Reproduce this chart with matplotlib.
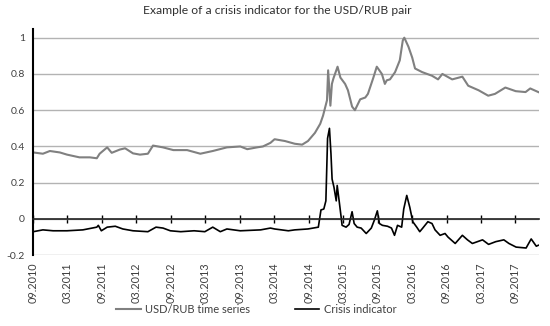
import matplotlib
matplotlib.use("Agg")
import matplotlib.pyplot as plt
import matplotlib.dates as mdates
import pandas as pd

plt.rcParams['font.family'] = ['Lato', 'DejaVu Sans']

# USD/RUB (normalised)
rub_dates = ["2010-09-01", "2010-10-22", "2010-11-28", "2011-01-20", "2011-02-27",
             "2011-05-04", "2011-06-28", "2011-08-04", "2011-08-19", "2011-09-28",
             "2011-10-22", "2011-12-04", "2012-01-01", "2012-02-12", "2012-03-20",
             "2012-05-01", "2012-05-28", "2012-07-20", "2012-09-13", "2012-11-25",
             "2013-02-03", "2013-04-10", "2013-06-24", "2013-09-03", "2013-10-10",
             "2013-12-01", "2014-01-01", "2014-02-10", "2014-03-04", "2014-04-28",
             "2014-06-19", "2014-07-28", "2014-08-28", "2014-10-04", "2014-11-01",
             "2014-11-16", "2014-12-07", "2014-12-13", "2014-12-25", "2015-01-02",
             "2015-01-10", "2015-02-01", "2015-02-16", "2015-03-13", "2015-03-28",
             "2015-04-19", "2015-05-04", "2015-06-01", "2015-06-28", "2015-07-12",
             "2015-08-10", "2015-08-28", "2015-09-24", "2015-10-10", "2015-10-20",
             "2015-11-06", "2015-12-03", "2015-12-28", "2016-01-13", "2016-01-21",
             "2016-02-12", "2016-03-03", "2016-03-18", "2016-04-25", "2016-06-16",
             "2016-07-18", "2016-08-10", "2016-10-01", "2016-11-24", "2016-12-25",
             "2017-02-18", "2017-04-10", "2017-05-16", "2017-07-10", "2017-09-03",
             "2017-10-25", "2017-11-19", "2018-01-01"]
rub_values = [0.367, 0.36, 0.375, 0.367, 0.355,
              0.34, 0.34, 0.335, 0.36, 0.395,
              0.365, 0.383, 0.39, 0.362, 0.355,
              0.36, 0.405, 0.395, 0.38, 0.38,
              0.36, 0.375, 0.395, 0.40, 0.385,
              0.395, 0.40, 0.42, 0.44, 0.43,
              0.415, 0.41, 0.43, 0.475, 0.525,
              0.57, 0.655, 0.82, 0.625, 0.745,
              0.775, 0.84, 0.78, 0.745, 0.71,
              0.62, 0.60, 0.66, 0.67, 0.69,
              0.78, 0.84, 0.80, 0.745, 0.765,
              0.77, 0.81, 0.875, 0.985, 1.0,
              0.95, 0.89, 0.83, 0.81, 0.79,
              0.77, 0.80, 0.77, 0.785, 0.735,
              0.71, 0.68, 0.69, 0.725, 0.705,
              0.70, 0.72, 0.70]

# crisis indicator
ci_dates = ["2010-09-01", "2010-10-22", "2010-12-15", "2011-02-27", "2011-05-22",
            "2011-08-04", "2011-08-12", "2011-08-28", "2011-09-28", "2011-11-10",
            "2011-12-20", "2012-02-12", "2012-05-01", "2012-06-13", "2012-07-20",
            "2012-08-28", "2012-10-22", "2013-01-01", "2013-02-27", "2013-04-10",
            "2013-05-20", "2013-06-24", "2013-09-03", "2013-12-20", "2014-02-10",
            "2014-03-04", "2014-05-16", "2014-06-19", "2014-08-28", "2014-10-22",
            "2014-11-05", "2014-11-20", "2014-12-01", "2014-12-10", "2014-12-20",
            "2014-12-28", "2015-01-03", "2015-01-13", "2015-01-25", "2015-01-30",
            "2015-02-10", "2015-02-20", "2015-02-25", "2015-03-18", "2015-04-03",
            "2015-04-19", "2015-04-30", "2015-05-16", "2015-06-06", "2015-07-03",
            "2015-07-30", "2015-08-15", "2015-08-31", "2015-09-11", "2015-09-27",
            "2015-10-24", "2015-11-14", "2015-11-30", "2015-12-16", "2016-01-07",
            "2016-01-18", "2016-02-03", "2016-02-19", "2016-03-06", "2016-03-27",
            "2016-04-12", "2016-04-28", "2016-05-25", "2016-06-16", "2016-07-02",
            "2016-07-29", "2016-08-24", "2016-09-09", "2016-10-17", "2016-11-24",
            "2016-12-21", "2017-01-16", "2017-03-11", "2017-04-12", "2017-05-20",
            "2017-07-02", "2017-07-29", "2017-09-05", "2017-10-28", "2017-11-24",
            "2017-12-21", "2018-01-01"]
ci_values = [-0.07, -0.06, -0.065, -0.065, -0.06,
             -0.045, -0.035, -0.065, -0.045, -0.04,
             -0.055, -0.065, -0.07, -0.045, -0.05,
             -0.065, -0.07, -0.065, -0.07, -0.045,
             -0.07, -0.055, -0.065, -0.06, -0.05,
             -0.055, -0.065, -0.06, -0.055, -0.045,
             0.05, 0.055, 0.10, 0.445, 0.50,
             0.36, 0.22, 0.175, 0.10, 0.185,
             0.095, 0.01, -0.035, -0.045, -0.03,
             0.04, -0.025, -0.045, -0.05, -0.08,
             -0.05, -0.007, 0.045, -0.025, -0.035,
             -0.04, -0.05, -0.09, -0.035, -0.045,
             0.055, 0.13, 0.065, -0.015, -0.045,
             -0.07, -0.05, -0.015, -0.025, -0.06,
             -0.09, -0.08, -0.10, -0.135, -0.09,
             -0.115, -0.135, -0.115, -0.14, -0.125,
             -0.115, -0.135, -0.155, -0.16, -0.11,
             -0.15, -0.145]

y_ticks = [-0.2, 0, 0.2, 0.4, 0.6, 0.8, 1]
title = "Example of a crisis indicator for the USD/RUB pair"
labels = ["USD/RUB time series", "Crisis indicator"]

txt = '#404040'
fig = plt.figure(figsize=(5.5, 3.26), dpi=100)
ax = fig.add_axes([0.0605, 0.217, 0.919, 0.693])

ax.plot(pd.to_datetime(rub_dates), rub_values, color='#808080', lw=1.5, label=labels[0])
ax.plot(pd.to_datetime(ci_dates), ci_values, color='black', lw=1.2, label=labels[1])

ax.set_xlim(pd.Timestamp("2010-09-01"), pd.Timestamp("2018-01-03"))
ax.set_ylim(-0.2, 1.046)
ax.set_yticks(y_ticks)
ax.set_yticklabels(['{:g}'.format(v) for v in y_ticks])
ax.grid(axis='y', color='#b3b3b3', lw=1)
ax.set_axisbelow(True)

for s in ['top', 'right']:
    ax.spines[s].set_visible(False)
ax.spines['left'].set_color('black')
ax.spines['left'].set_linewidth(1.5)
ax.spines['bottom'].set_position(('data', 0))
ax.spines['bottom'].set_color('#222222')
ax.spines['bottom'].set_linewidth(1.2)

ticks = pd.date_range("2010-09-01", "2017-09-01", freq="6MS")
ax.set_xticks(ticks)
ax.xaxis.set_major_formatter(mdates.DateFormatter('%m.%Y'))
ax.tick_params(axis='x', direction='inout', length=6, width=1, labelbottom=False)
ax.tick_params(axis='y', length=0, pad=6, labelsize=7.5, labelcolor=txt)

# second axes just for the date labels at the bottom
lab = fig.add_axes(ax.get_position(), sharex=ax)
lab.patch.set_visible(False)
for s in lab.spines.values():
    s.set_visible(False)
lab.yaxis.set_visible(False)
lab.tick_params(axis='x', length=0, pad=5, labelsize=7.8, labelcolor=txt, labelrotation=90)

fig.suptitle(title, y=0.985, x=0.505, fontsize=8.7, color='#303030')
fig.legend(handles=ax.get_lines(), labels=labels, loc='center', bbox_to_anchor=(0.466, 0.05),
           ncol=2, frameon=False, fontsize=8, handlelength=2.2, columnspacing=4,
           labelcolor=txt, handletextpad=0.4)

fig.savefig("out.png", dpi=100)
